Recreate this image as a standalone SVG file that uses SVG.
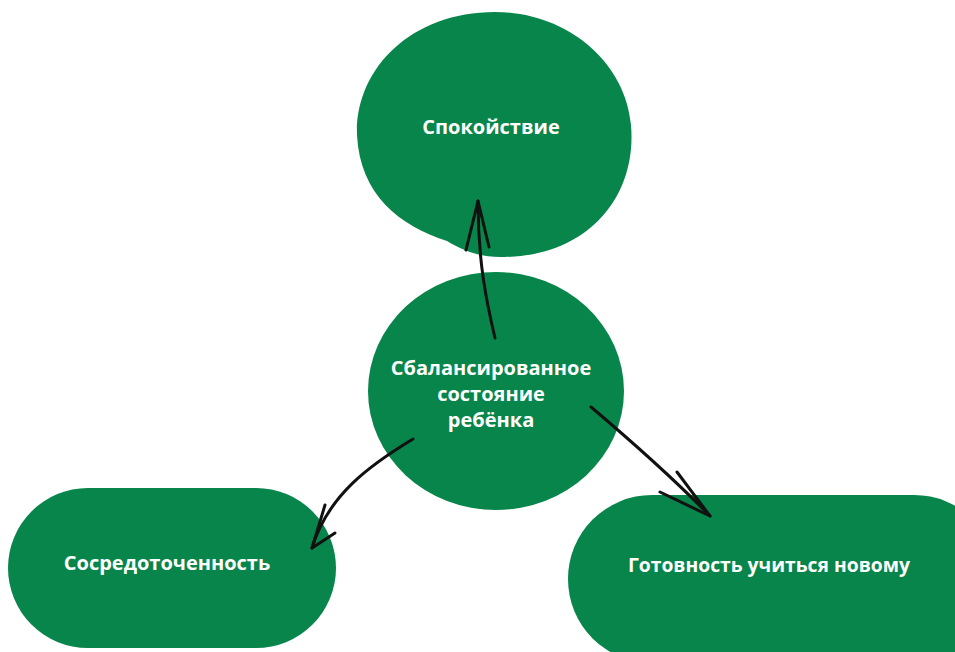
<svg xmlns="http://www.w3.org/2000/svg" width="955" height="652" viewBox="0 0 955 652">
<style>
.node{fill:#07854a}
.lbl{fill:#ffffff;font-family:"Open Sans","DejaVu Sans",sans-serif;font-weight:700;font-size:20px;text-anchor:middle}
.arr{fill:none;stroke:#111111;stroke-width:3;stroke-linecap:round;stroke-linejoin:round}
</style>
<rect width="955" height="652" fill="#ffffff"/>
<g id="node-calm">
<path class="node" d="M357,135 C355,70 410,12 495,12 C565,12 625,60 631,125 C637,195 590,255 505,257 C480,258 462,250 447,241 C400,226 360,195 357,135 Z"/>
<text class="lbl" x="491" y="134">Спокойствие</text>
</g>
<g id="node-center">
<ellipse class="node" cx="496" cy="391" rx="128" ry="119"/>
<text class="lbl" x="491" y="375">Сбалансированное</text>
<text class="lbl" x="491" y="401">состояние</text>
<text class="lbl" x="491" y="427">ребёнка</text>
</g>
<g id="node-focus">
<rect class="node" x="8" y="488" width="328" height="160" rx="80"/>
<text class="lbl" x="167" y="570">Сосредоточенность</text>
</g>
<g id="node-ready">
<rect class="node" x="568" y="495" width="430" height="168" rx="84"/>
<text class="lbl" x="769" y="572" style="font-size:19.3px">Готовность учиться новому</text>
</g>
<g id="connectors">
<path class="arr" d="M495,338 C486,300 478,260 478,201"/>
<path class="arr" d="M466,250 L478,201 L489,247"/>
<path class="arr" d="M413,439 C370,465 328,495 312,548"/>
<path class="arr" d="M325,505 L312,548 L335,533"/>
<path class="arr" d="M591,407 C630,440 675,480 710,516"/>
<path class="arr" d="M677,472 L710,516 L660,492"/>
</g>
</svg>
